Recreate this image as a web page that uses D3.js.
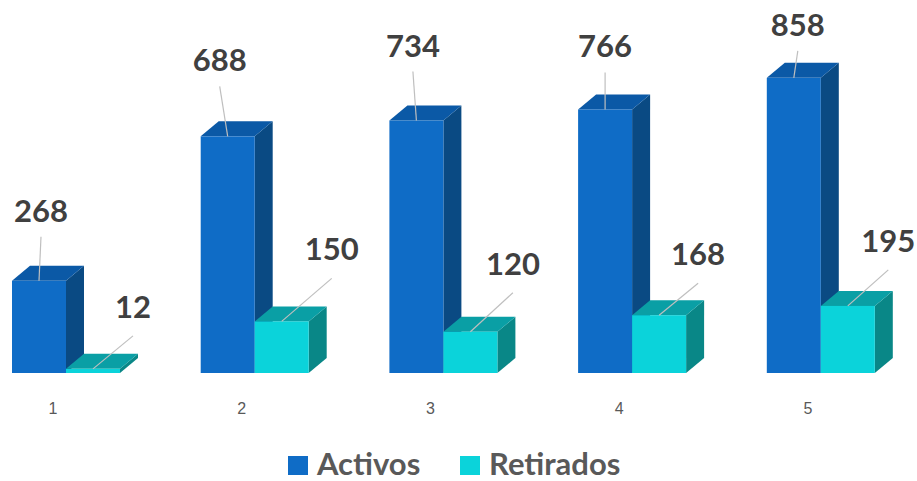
<!DOCTYPE html>
<html>
<head>
<meta charset="utf-8">
<script src="https://cdn.jsdelivr.net/npm/d3@7"></script>
<style>
  html, body { margin: 0; padding: 0; background: #fff; }
  svg { display: block; }
</style>
</head>
<body>
<svg id="chart" width="917" height="481"></svg>
<script>
// ---- data ----
const categories = ["1", "2", "3", "4", "5"];
const seriesNames = ["Activos", "Retirados"];
const activos = [268, 688, 734, 766, 858];
const retirados = [12, 150, 120, 168, 195];

// ---- layout (label placement relative to bar top, px) ----
const activosLabelShift = [[2, -59], [-8, -65], [-3.5, -64], [0, -52], [4, -42]];
const retiradosLabelShift = [[40, -51], [50, -61], [42.5, -57], [39, -50], [40.5, -54]];

const colors = {
  Activos:   { front: "#0f6cc6", top: "#0b59a6", side: "#0a4a83" },
  Retirados: { front: "#0bd3da", top: "#0a9fa5", side: "#098787" }
};
const DX = 18, DY = 15;

const svg = d3.select("#chart");

const x = d3.scaleBand().domain(categories).range([12, 874.8]).paddingInner(0.4277).paddingOuter(0);
const xs = d3.scaleBand().domain(seriesNames).range([0, x.bandwidth()]).padding(0);
const y = d3.scaleLinear().domain([0, 1000]).range([373, 29]);

const rows = categories.map((c, i) => ({
  cat: c,
  vals: [
    { s: "Activos", v: activos[i], shift: activosLabelShift[i], lead: 15 },
    { s: "Retirados", v: retirados[i], shift: retiradosLabelShift[i], lead: 18 }
  ]
}));

const g = svg.append("g");
const groups = g.selectAll("g.grp").data(rows).join("g").attr("class", "grp")
  .attr("transform", d => `translate(${x(d.cat)},0)`);

const bars = groups.selectAll("g.bar").data(d => d.vals).join("g").attr("class", "bar");

bars.each(function(d) {
  const sel = d3.select(this);
  const x0 = xs(d.s), w = xs.bandwidth();
  const top = y(d.v), base = y(0);
  const c = colors[d.s];
  sel.append("path")
    .attr("d", `M${x0 + w},${top} L${x0 + w + DX},${top - DY} L${x0 + w + DX},${base - DY} L${x0 + w},${base} Z`)
    .attr("fill", c.side);
  sel.append("path")
    .attr("d", `M${x0},${top} L${x0 + DX},${top - DY} L${x0 + w + DX},${top - DY} L${x0 + w},${top} Z`)
    .attr("fill", c.top);
  sel.append("rect")
    .attr("x", x0).attr("y", top).attr("width", w).attr("height", base - top)
    .attr("fill", c.front);
});

bars.each(function(d) {
  const sel = d3.select(this);
  const x0 = xs(d.s), w = xs.bandwidth();
  const cx = x0 + w / 2, top = y(d.v);
  const lx = cx + d.shift[0], ly = top + d.shift[1];
  sel.append("line")
    .attr("x1", lx).attr("y1", ly + d.lead)
    .attr("x2", cx).attr("y2", top)
    .attr("stroke", "#bfbfbf").attr("stroke-width", 1.2);
  sel.append("text")
    .attr("x", lx).attr("y", ly)
    .attr("text-anchor", "middle")
    .attr("font-family", "Lato, 'Open Sans', sans-serif")
    .attr("font-weight", "bold")
    .attr("font-size", 31)
    .attr("fill", "#404040")
    .text(d.v);
});

g.selectAll("text.cat").data(categories).join("text").attr("class", "cat")
  .attr("x", d => x(d) + x.bandwidth() * 0.38)
  .attr("y", 414)
  .attr("text-anchor", "middle")
  .attr("font-family", "'Liberation Sans Narrow', 'Arial Narrow', sans-serif")
  .attr("font-size", 16)
  .attr("fill", "#595959")
  .text(d => d);

const legend = svg.append("g");
const legendItems = [
  { name: "Activos", x: 288 },
  { name: "Retirados", x: 460 }
];
const li = legend.selectAll("g").data(legendItems).join("g")
  .attr("transform", d => `translate(${d.x},0)`);
li.append("rect").attr("x", 0).attr("y", 456).attr("width", 20).attr("height", 19)
  .attr("fill", d => colors[d.name].front);
li.append("text").attr("x", 29).attr("y", 475)
  .attr("font-family", "Lato, 'Open Sans', sans-serif")
  .attr("font-weight", "bold")
  .attr("font-size", 31)
  .attr("fill", "#595959")
  .text(d => d.name);
</script>
</body>
</html>
